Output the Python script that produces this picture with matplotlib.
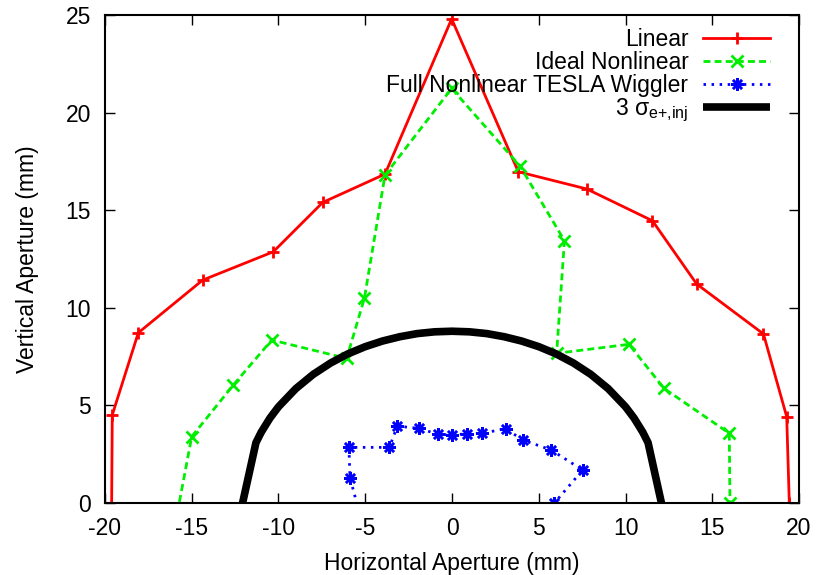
import matplotlib
matplotlib.use("Agg")
import matplotlib.pyplot as plt

plt.rcParams['font.family'] = ['Liberation Sans', 'DejaVu Sans']
plt.rcParams['mathtext.fontset'] = 'custom'
plt.rcParams['mathtext.rm'] = 'Liberation Sans'
plt.rcParams['mathtext.it'] = 'Liberation Sans:italic'
plt.rcParams['lines.scale_dashes'] = False
plt.rcParams['axes.unicode_minus'] = False

FS = 16.5

# dynamic aperture scans (mm)
linear_x = [-19.62, -19.58, -18.08, -14.37, -10.30, -7.45, -3.86, -0.02,
            3.82, 7.76, 11.55, 14.10, 17.95, 19.29, 19.44]
linear_y = [-0.5, 4.51, 8.72, 11.42, 12.87, 15.40, 16.85, 24.80,
            16.97, 16.09, 14.46, 11.22, 8.66, 4.42, 0.0]

ideal_x = [-15.83, -15.00, -12.60, -10.39, -6.07, -5.05, -3.86, -0.02,
           3.92, 6.48, 6.03, 10.20, 12.22, 15.98, 16.02]
ideal_y = [-0.5, 3.40, 6.05, 8.35, 7.41, 10.49, 16.80, 21.24,
           17.26, 13.44, 7.67, 8.13, 5.87, 3.57, 0.0]

tesla_x = [-5.34, -5.88, -5.94, -3.61, -3.15, -1.90, -0.83, 0.02, 0.85,
           1.75, 3.09, 4.07, 5.71, 7.53, 5.90]
tesla_y = [-0.5, 1.30, 2.85, 2.85, 3.94, 3.82, 3.53, 3.48, 3.55,
           3.57, 3.81, 3.23, 2.72, 1.69, 0.0]

# 3 sigma injected positron beam envelope
beam_x = [-12.07, -11.3, -11.0, -10.5, -10.0, -9.0, -8.0, -7.0, -6.0, -5.0,
          -4.0, -3.0, -2.0, -1.0, 0.0, 1.0, 2.0, 3.0, 4.0, 5.0, 6.0, 7.0,
          8.0, 9.0, 10.0, 10.5, 11.0, 11.3, 12.07]
beam_y = [0.0, 3.09, 3.62, 4.34, 4.93, 5.86, 6.59, 7.17, 7.64, 8.01,
          8.30, 8.52, 8.68, 8.77, 8.80, 8.77, 8.68, 8.52, 8.30, 8.01, 7.64,
          7.17, 6.59, 5.86, 4.93, 4.34, 3.62, 3.09, 0.0]

fig = plt.figure(figsize=(8.17, 5.75), dpi=100)
ax = fig.add_axes([0.1285, 0.1252, 0.8495, 0.8487])

ax.plot(linear_x, linear_y, color='#ff0000', lw=2.0, marker='+', ms=8, mew=2,
        label='Linear')
ax.plot(ideal_x, ideal_y, color='#00ee00', lw=2.0, dashes=(5, 3), marker='x',
        ms=8, mew=2, label='Ideal Nonlinear')
ax.plot(tesla_x, tesla_y, color='#0000ff', lw=2.0, dashes=(1.8, 4),
        marker=(8, 2, 0), ms=9, mew=1.8, label='Full Nonlinear TESLA Wiggler')
ax.plot(beam_x, beam_y, color='black', lw=5.5, solid_capstyle='butt',
        label='3 σ$_{\\text{e+,inj}}$')

ax.set_xlim(-20, 20)
ax.set_ylim(0, 25)
ax.set_xticks(range(-20, 21, 5))
ax.set_yticks(range(0, 26, 5))
ax.tick_params(direction='in', length=7, width=1, top=True, right=True,
               labelsize=FS)
ax.tick_params(axis='x', pad=10)
ax.tick_params(axis='y', pad=10)
for s in ax.spines.values():
    s.set_linewidth(1.5)

ax.set_xlabel('Horizontal Aperture (mm)', fontsize=FS, labelpad=9)
ax.set_ylabel('Vertical Aperture (mm)', fontsize=FS, labelpad=19)

ax.legend(loc='upper right', bbox_to_anchor=(0.986, 1.014), frameon=False,
          markerfirst=False, fontsize=FS, handlelength=2.9,
          handletextpad=0.65, labelspacing=0.0, borderpad=0.35, numpoints=1)

fig.savefig('out.png', dpi=100)
